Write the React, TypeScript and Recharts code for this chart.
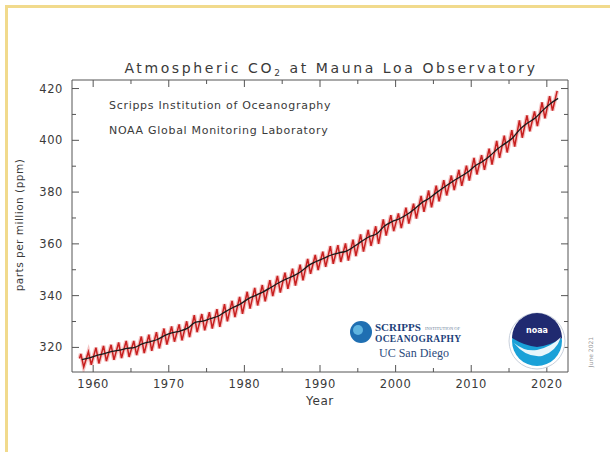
import React from 'react';
import { LineChart, Line, XAxis, YAxis } from 'recharts';

const years = [
  1958, 1959, 1960, 1961, 1962, 1963, 1964, 1965, 1966, 1967, 1968, 1969,
  1970, 1971, 1972, 1973, 1974, 1975, 1976, 1977, 1978, 1979, 1980, 1981,
  1982, 1983, 1984, 1985, 1986, 1987, 1988, 1989, 1990, 1991, 1992, 1993,
  1994, 1995, 1996, 1997, 1998, 1999, 2000, 2001, 2002, 2003, 2004, 2005,
  2006, 2007, 2008, 2009, 2010, 2011, 2012, 2013, 2014, 2015, 2016, 2017,
  2018, 2019, 2020, 2021,
];

// Deseasonalized trend (annual level), ppm
const annualMean = [
  315.3, 315.98, 316.91, 317.64, 318.45, 318.99, 319.62, 320.04, 321.37, 322.18, 323.05, 324.62,
  325.68, 326.32, 327.46, 329.68, 330.19, 331.13, 332.03, 333.84, 335.41, 336.84, 338.76, 340.12,
  341.48, 343.15, 344.87, 346.35, 347.61, 349.31, 351.69, 353.2, 354.45, 355.7, 356.54, 357.21,
  358.96, 360.97, 362.74, 363.88, 366.84, 368.54, 369.71, 371.32, 373.45, 375.98, 377.7, 379.98,
  382.09, 384.02, 385.83, 387.64, 390.1, 391.85, 394.06, 396.74, 398.81, 401.01, 404.41, 406.76,
  408.72, 411.66, 414.24, 416.2,
];

// Spring (May) seasonal maxima, ppm
const mayPeak = [
  317.5, 318.3, 319.9, 320.6, 321.0, 321.9, 322.5, 322.5, 324.2, 324.9, 325.9, 327.3,
  328.1, 328.9, 330.1, 332.5, 332.9, 333.6, 334.8, 336.7, 338.0, 339.5, 341.5, 343.0,
  344.1, 346.0, 347.6, 348.9, 350.4, 352.0, 354.2, 355.7, 357.0, 359.1, 359.5, 360.2,
  361.6, 363.7, 365.4, 366.8, 369.5, 371.1, 371.8, 374.0, 375.5, 378.5, 380.6, 382.5,
  384.6, 386.4, 388.6, 390.2, 393.2, 394.3, 396.8, 399.8, 401.8, 403.9, 407.7, 409.6,
  411.2, 414.7, 417.1, 419.1,
];

// Autumn (Sep/Oct) seasonal minima, ppm
const autumnLow = [
  312.4, 313.3, 313.8, 314.7, 315.2, 315.9, 316.3, 317.0, 317.8, 318.7, 319.6, 321.1,
  322.2, 322.7, 324.0, 325.9, 326.6, 327.3, 327.9, 330.1, 331.7, 333.0, 335.0, 336.2,
  337.8, 339.8, 341.2, 342.6, 343.9, 345.9, 348.4, 349.9, 351.1, 352.3, 353.0, 353.5,
  355.3, 357.0, 359.2, 360.0, 363.2, 364.9, 366.1, 367.8, 369.8, 372.4, 374.1, 376.4,
  378.7, 380.8, 382.4, 384.4, 386.8, 388.6, 390.6, 393.2, 395.3, 397.6, 401.0, 403.5,
  405.5, 408.5, 411.5,
];

const firstObsTime = 1958.2;
const firstObsValue = 315.7;

const xTicks = [1960, 1965, 1970, 1975, 1980, 1985, 1990, 1995, 2000, 2005, 2010, 2015, 2020];
const yTicks = [315, 320, 325, 330, 335, 340, 345, 350, 355, 360, 365, 370, 375, 380, 385, 390, 395, 400, 405, 410, 415, 420];
const xDomain = [1957.2, 2022.8];
const yDomain = [310.5, 423.3];

const monthlyData: { t: number; v: number }[] = [{ t: firstObsTime, v: firstObsValue }];
years.forEach((y, i) => {
  monthlyData.push({ t: y + 0.37, v: mayPeak[i] });
  if (autumnLow[i] !== undefined) monthlyData.push({ t: y + 0.75, v: autumnLow[i] });
});
const trendData = years.map((y, i) => ({ t: y + 0.5, v: annualMean[i] }));

const FONT = '"DejaVu Sans", Verdana, sans-serif';
const INK = '#3a3a3a';

const BottomTick = (p: any) => {
  const major = p.payload.value % 10 === 0;
  return (
    <g>
      <line x1={p.x} x2={p.x} y1={p.y} y2={p.y - (major ? 7 : 4)} stroke="#555" strokeWidth={1} />
      {major && (
        <text x={p.x} y={p.y + 16} textAnchor="middle" fontSize={11.5} fill={INK} fontFamily={FONT} letterSpacing={0.6}>
          {p.payload.value}
        </text>
      )}
    </g>
  );
};
const TopTick = (p: any) => {
  const major = p.payload.value % 10 === 0;
  return <line x1={p.x} x2={p.x} y1={p.y} y2={p.y + (major ? 7 : 4)} stroke="#555" strokeWidth={1} />;
};
const LeftTick = (p: any) => {
  const major = p.payload.value % 20 === 0;
  return (
    <g>
      <line x1={p.x} x2={p.x + (major ? 7 : 4)} y1={p.y} y2={p.y} stroke="#555" strokeWidth={1} />
      {major && (
        <text x={p.x - 9} y={p.y + 4} textAnchor="end" fontSize={11.5} fill={INK} fontFamily={FONT} letterSpacing={0.6}>
          {p.payload.value}
        </text>
      )}
    </g>
  );
};
const RightTick = (p: any) => {
  const major = p.payload.value % 20 === 0;
  return <line x1={p.x} x2={p.x - (major ? 7 : 4)} y1={p.y} y2={p.y} stroke="#555" strokeWidth={1} />;
};

export default function App() {
  return (
    <div style={{ position: 'absolute', left: 0, top: 0, width: 610, height: 452, background: '#fff', overflow: 'hidden' }}>
      <div style={{ position: 'absolute', left: 5, top: 5, width: 605, height: 447, borderLeft: '3px solid #f1da8c', borderTop: '3px solid #f1da8c' }} />
      <div style={{ position: 'absolute', left: 0, top: 0 }}>
        <LineChart width={610} height={452} margin={{ top: 70, right: 32, bottom: 50, left: 22 }}>
          <XAxis xAxisId="b" dataKey="t" type="number" domain={xDomain} ticks={xTicks} allowDataOverflow
            orientation="bottom" height={30} tickSize={0} tickMargin={0} tick={BottomTick} stroke="#555"
            label={{ value: 'Year', position: 'insideBottom', offset: -3, fill: INK, fontSize: 12, fontFamily: FONT, letterSpacing: 0.6 } as any} />
          <XAxis xAxisId="t" dataKey="t" type="number" domain={xDomain} ticks={xTicks} allowDataOverflow
            orientation="top" height={10} tickSize={0} tickMargin={0} tick={TopTick} stroke="#555" />
          <YAxis yAxisId="l" type="number" domain={yDomain} ticks={yTicks} allowDataOverflow
            orientation="left" width={50} tickSize={0} tickMargin={0} tick={LeftTick} stroke="#555" />
          <YAxis yAxisId="r" type="number" domain={yDomain} ticks={yTicks} allowDataOverflow
            orientation="right" width={10} tickSize={0} tickMargin={0} tick={RightTick} stroke="#555" />
          <Line xAxisId="b" yAxisId="l" data={monthlyData} dataKey="v" type="linear" stroke="#ec8a8a" strokeOpacity={0.5}
            strokeWidth={4} dot={false} isAnimationActive={false} />
          <Line xAxisId="b" yAxisId="l" data={monthlyData} dataKey="v" type="linear" stroke="#c82020"
            strokeWidth={1.5} dot={false} isAnimationActive={false} />
          <Line xAxisId="b" yAxisId="l" data={trendData} dataKey="v" type="monotone" stroke="#1a1a1a"
            strokeWidth={1.3} dot={false} isAnimationActive={false} />
        </LineChart>
      </div>
      <svg width={610} height={452} style={{ position: 'absolute', left: 0, top: 0, pointerEvents: 'none' }}>
        <text x={331} y={73} textAnchor="middle" fontSize={14} fill={INK} fontFamily={FONT} letterSpacing={2.6}>
          Atmospheric CO<tspan fontSize={9} dy={3}>2</tspan><tspan dy={-3}> at Mauna Loa Observatory</tspan>
        </text>
        <text x={109} y={109} fontSize={11} fill={INK} fontFamily={FONT} letterSpacing={0.7}>Scripps Institution of Oceanography</text>
        <text x={109} y={134} fontSize={11} fill={INK} fontFamily={FONT} letterSpacing={0.7}>NOAA Global Monitoring Laboratory</text>
        <text transform="translate(23,225) rotate(-90)" textAnchor="middle" fontSize={10.5} fill={INK} fontFamily={FONT} letterSpacing={0.5}>
          parts per million (ppm)
        </text>
        <text transform="translate(593,352) rotate(-90)" textAnchor="middle" fontSize={6} fill="#999" fontFamily={FONT}>June 2021</text>
        {/* Scripps logo */}
        <circle cx={361} cy={332} r={11} fill="#1f6fb2" />
        <circle cx={358} cy={330} r={5} fill="#5fb4e0" />
        <text x={375} y={331} fontSize={11} fill="#1d3f7a" fontFamily='"Liberation Serif", serif' fontWeight="bold">SCRIPPS</text>
        <text x={425} y={330} fontSize={4.5} fill="#6d7f9c" fontFamily='"Liberation Serif", serif'>INSTITUTION OF</text>
        <text x={375} y={342} fontSize={9.5} fill="#1d3f7a" fontFamily='"Liberation Serif", serif' fontWeight="bold" letterSpacing={0.3}>OCEANOGRAPHY</text>
        <text x={379} y={357} fontSize={12} fill="#2b4a7c" fontFamily='"Liberation Serif", serif'>UC San Diego</text>
        {/* NOAA logo */}
        <circle cx={537} cy={341} r={28} fill="#ffffff" stroke="#c8d0dc" strokeWidth={1} />
        <circle cx={537} cy={341} r={25} fill="#1aa1d8" />
        <path d="M512,338 A25,25 0 0 1 562,338 Q549,346 537,347 Q525,346 512,338 Z" fill="#202a70" />
        <path d="M514,343 Q525,352 537,350 Q551,347 561,337 Q556,352 542,356 Q526,358 514,343 Z" fill="#ffffff" opacity={0.9} />
        <text x={537} y={333} textAnchor="middle" fontSize={8} fill="#fff" fontFamily={FONT} fontWeight="bold">noaa</text>
      </svg>
    </div>
  );
}
